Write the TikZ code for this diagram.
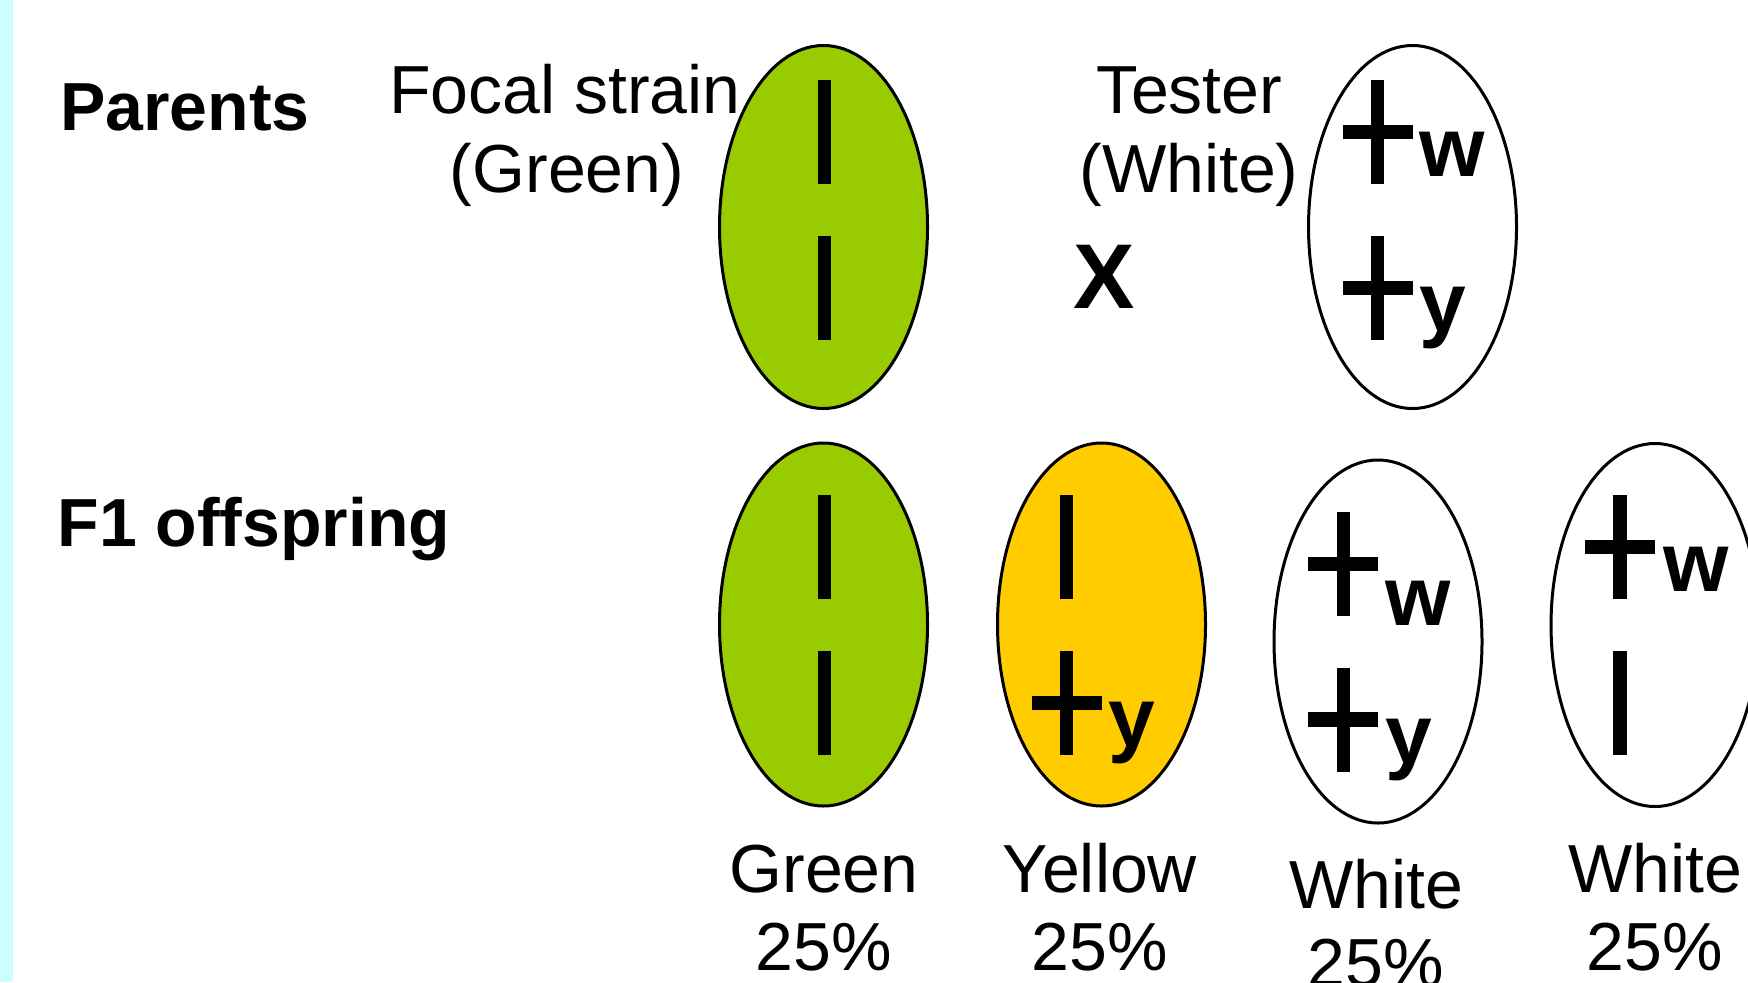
\documentclass[tikz,border=0pt]{standalone}
\usepackage{fontspec}
\setmainfont{Liberation Sans}
\usetikzlibrary{shapes.geometric}
\definecolor{leafgreen}{HTML}{99CC00}
\definecolor{gold}{HTML}{FFCC00}
\definecolor{stripcyan}{HTML}{CCFFFF}
\tikzset{
  chrom/.style={ellipse, draw=black, line width=1.5pt, inner sep=0pt,
    minimum width=104pt, minimum height=181.5pt},
  vbar/.style={line width=6.65pt, line cap=butt},
  hbar/.style={line width=7.2pt, line cap=butt},
  lbl/.style={font=\fontsize{34}{40}\selectfont, inner sep=0pt, anchor=base},
  head/.style={font=\bfseries\fontsize{34}{40}\selectfont, inner sep=0pt, anchor=base},
  allele/.style={font=\bfseries\fontsize{42}{48}\selectfont, inner sep=0pt, anchor=base west},
  cross/.style={font=\bfseries\fontsize{46}{52}\selectfont, inner sep=0pt, anchor=base},
}
\newcommand{\locbar}[2]{\draw[vbar] (#1,#2-52) -- (#1,#2+52);}
\newcommand{\locplus}[2]{\draw[vbar] (#1,#2-52) -- (#1,#2+52);
  \draw[hbar] (#1-35,#2) -- (#1+35,#2);}
\begin{document}
\begin{tikzpicture}[x=0.5pt,y=-0.5pt]
\useasboundingbox (0,0) rectangle (1748,982);
\fill[white] (0,0) rectangle (1748,982);
\fill[stripcyan] (0,0) rectangle (12.5,982);

% headings
\node[head] (hpar) at (185,130) {Parents};
\node[head] (hf1) at (254,546) {F1 offspring};

% parent labels
\node[lbl] (focal1) at (565,113) {Focal strain};
\node[lbl] (focal2) at (567,192) {(Green)};
\node[lbl] (test1) at (1189.5,113) {Tester};
\node[lbl] (test2) at (1189,192) {(White)};
\node[cross] (x) at (1104,308) {X};

% parent chromosomes
\node[chrom, fill=leafgreen] (p1) at (823.5,227) {};
\node[chrom, fill=white] (p2) at (1412.5,227) {};
\locbar{824.5}{131.5}
\locbar{824.5}{287.5}
\locplus{1377.7}{131.7}
\locplus{1377.7}{288}
\node[allele] (p2w) at (1419,176) {w};
\node[allele] (p2y) at (1419,331.5) {y};

% F1 chromosomes
\node[chrom, fill=leafgreen] (f1) at (823.5,624.5) {};
\node[chrom, fill=gold] (f2) at (1101.5,624.5) {};
\node[chrom, fill=white] (f3) at (1378,641.5) {};
\node[chrom, fill=white] (f4) at (1655,625) {};

\locbar{824.5}{546.5}
\locbar{824.5}{703}
\locbar{1066.5}{547}
\locplus{1066.5}{703}
\node[allele] (f2y) at (1108,746) {y};
\locplus{1343.3}{564}
\locplus{1343.3}{719.5}
\node[allele] (f3w) at (1385,625) {w};
\node[allele] (f3y) at (1385,763.5) {y};
\locplus{1620}{547}
\locbar{1620}{703}
\node[allele] (f4w) at (1663,591.5) {w};

% F1 labels
\node[lbl] (g1) at (824,892) {Green};
\node[lbl] (g2) at (824,970) {25\%};
\node[lbl] (y1) at (1100,892) {Yellow};
\node[lbl] (y2) at (1100,970) {25\%};
\node[lbl] (w1) at (1376,908) {White};
\node[lbl] (w2) at (1376,986) {25\%};
\node[lbl] (v1) at (1655,892) {White};
\node[lbl] (v2) at (1655,970) {25\%};
\end{tikzpicture}
\end{document}
